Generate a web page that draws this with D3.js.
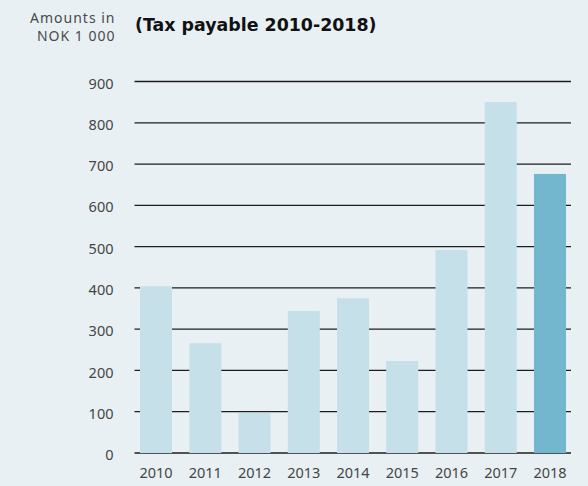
<!DOCTYPE html>
<html>
<head>
<meta charset="utf-8">
<script src="https://cdn.jsdelivr.net/npm/d3@7"></script>
<style>
  html, body { margin: 0; padding: 0; background: #e8f0f3; }
  svg { display: block; font-family: "Noto Sans", sans-serif; }
</style>
</head>
<body>
<script>
var years = ["2010", "2011", "2012", "2013", "2014", "2015", "2016", "2017", "2018"];
var amounts = [404, 266, 97, 344, 375, 223, 492, 850, 676];
var yTicks = [0, 100, 200, 300, 400, 500, 600, 700, 800, 900];

var w = 588;
var h = 486;

var svg = d3.select("body")
    .append("svg")
    .attr("width", w)
    .attr("height", h);

svg.append("rect")
    .attr("width", w)
    .attr("height", h)
    .attr("fill", "#e8f0f3");

var xScale = d3.scaleBand()
    .domain(years)
    .range([140, 566])
    .paddingInner(0.35)
    .paddingOuter(0);

var yScale = d3.scaleLinear()
    .domain([0, 900])
    .range([453, 81.5]);

// grid lines go under the bars
svg.append("g")
    .attr("class", "grid")
    .selectAll("line")
    .data(yTicks)
    .enter()
    .append("line")
    .attr("x1", 134.5)
    .attr("x2", 571)
    .attr("y1", function(d) { return yScale(d); })
    .attr("y2", function(d) { return yScale(d); })
    .attr("stroke", "#1e1e1e")
    .attr("stroke-width", 1.3);

svg.append("g")
    .selectAll("rect")
    .data(amounts)
    .enter()
    .append("rect")
    .attr("x", function(d, i) { return xScale(years[i]); })
    .attr("y", function(d) { return yScale(d); })
    .attr("width", xScale.bandwidth())
    .attr("height", function(d) { return yScale(0) - yScale(d); })
    .attr("fill", function(d, i) { return i == years.length - 1 ? "#72b7ce" : "#c6e0ea"; });

var yAxis = d3.axisLeft(yScale)
    .tickValues(yTicks)
    .tickSize(0)
    .tickPadding(0);

svg.append("g")
    .attr("class", "y axis")
    .attr("transform", "translate(113.5,2)")
    .call(yAxis)
    .call(function(g) { g.select(".domain").remove(); })
    .selectAll("text")
    .attr("fill", "#454545")
    .style("font-size", "14.5px")
    .style("font-family", "'Noto Sans', sans-serif");

var xAxis = d3.axisBottom(xScale)
    .tickSize(0)
    .tickPadding(0);

svg.append("g")
    .attr("class", "x axis")
    .attr("transform", "translate(0,468)")
    .call(xAxis)
    .call(function(g) { g.select(".domain").remove(); })
    .selectAll("text")
    .attr("fill", "#454545")
    .style("font-size", "14.5px")
    .style("font-family", "'Noto Sans', sans-serif");

// unit label
svg.append("text")
    .attr("x", 115.5)
    .attr("y", 22.5)
    .attr("text-anchor", "end")
    .attr("fill", "#4a4a4a")
    .style("font-size", "14px")
    .style("letter-spacing", "1px")
    .text("Amounts in");

svg.append("text")
    .attr("x", 115.5)
    .attr("y", 41.3)
    .attr("text-anchor", "end")
    .attr("fill", "#4a4a4a")
    .style("font-size", "14px")
    .style("letter-spacing", "1px")
    .text("NOK 1 000");

// title, first line runs off the top
svg.append("text")
    .attr("x", 135)
    .attr("y", -4)
    .attr("fill", "#111")
    .style("font-family", "'DejaVu Sans', sans-serif")
    .style("font-size", "17.4px")
    .style("font-weight", "bold")
    .text("Wealth tax paid by the company per year");

svg.append("text")
    .attr("x", 135)
    .attr("y", 31)
    .attr("fill", "#111")
    .style("font-family", "'DejaVu Sans', sans-serif")
    .style("font-size", "17.4px")
    .style("font-weight", "bold")
    .text("(Tax payable 2010-2018)");
</script>
</body>
</html>
